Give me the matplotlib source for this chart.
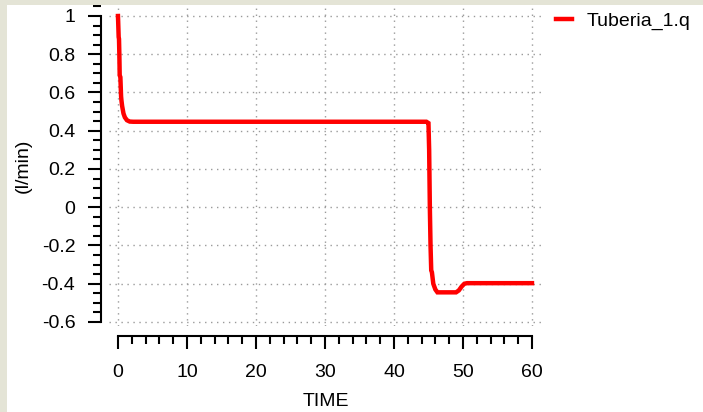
import matplotlib
matplotlib.use("Agg")
import matplotlib.pyplot as plt
from matplotlib.patches import Rectangle
from matplotlib.ticker import MultipleLocator

# Tuberia_1.q flow
time = [0.0, 0.03, 0.1, 0.15, 0.2, 0.25, 0.35, 0.45, 0.5, 0.6, 0.8, 1.0, 1.3, 1.7, 2.2,
        44.7, 45.0, 45.1, 45.2, 45.3, 45.4, 45.5, 45.7, 46.0, 46.3, 49.0, 49.4, 49.8, 50.2, 50.6, 60.0]
flow = [1.0, 0.97, 0.89, 0.88, 0.80, 0.69, 0.68, 0.58, 0.56, 0.53, 0.49, 0.47, 0.455, 0.448, 0.447,
        0.447, 0.44, 0.30, 0.0, -0.2, -0.33, -0.34, -0.40, -0.43, -0.445, -0.445, -0.435, -0.415, -0.40, -0.397, -0.397]
series_name = "Tuberia_1.q"

W, H = 703, 412
fig = plt.figure(figsize=(W / 100, H / 100), dpi=100)
fig.patch.set_facecolor("white")

# textured frame strips of the original screenshot
fig.patches.append(Rectangle((0, 1 - 5 / H), 1, 5 / H, transform=fig.transFigure,
                             facecolor="#e4e4d6", edgecolor="none", zorder=0))
fig.patches.append(Rectangle((0, 0), 7 / W, 1, transform=fig.transFigure,
                             facecolor="#e4e4d6", edgecolor="none", zorder=0))

# axes box in pixels
left, right, top, bottom = 109, 543, 5, 326
ax = fig.add_axes([left / W, 1 - bottom / H, (right - left) / W, (bottom - top) / H])
ax.set_facecolor("white")
ax.set_xlim(-1.3, 61.6)
ax.set_ylim(-0.621, 1.0575)

ax.plot(time, flow, color="#ff0000", lw=3.2, solid_joinstyle="miter", label=series_name)

fs = 14
font = "Liberation Sans"

ax.xaxis.set_major_locator(MultipleLocator(10))
ax.xaxis.set_minor_locator(MultipleLocator(2))
ax.yaxis.set_major_locator(MultipleLocator(0.2))
ax.yaxis.set_minor_locator(MultipleLocator(0.05))

ax.grid(True, which="major", color="#9a9a9a", lw=1.0, linestyle=(0, (1, 3.3)))

for s in ["top", "right"]:
    ax.spines[s].set_visible(False)
ax.spines["left"].set_position(("outward", 8 * 0.72))
ax.spines["bottom"].set_position(("outward", 10 * 0.72))
ax.spines["left"].set_bounds(-0.6, 1.0)
ax.spines["bottom"].set_bounds(0, 60)
ax.spines["left"].set_linewidth(1.5)
ax.spines["bottom"].set_linewidth(1.5)

ax.tick_params(which="major", length=9.5, width=1.5, color="black")
ax.tick_params(which="minor", length=5.5, width=1.5, color="black")
ax.tick_params(axis="y", which="major", pad=9)
ax.tick_params(axis="x", which="major", pad=11)

ax.set_xticks([0, 10, 20, 30, 40, 50, 60])
ax.set_xticklabels(["0", "10", "20", "30", "40", "50", "60"], fontsize=fs, family=font)
yt = [-0.6, -0.4, -0.2, 0, 0.2, 0.4, 0.6, 0.8, 1]
ax.set_yticks(yt)
ax.set_yticklabels([("%g" % v) for v in yt], fontsize=fs, family=font)

ax.set_xlabel("TIME", fontsize=fs, family=font, labelpad=8)
ax.set_ylabel("(l/min)", fontsize=fs, family=font, labelpad=7)

leg = ax.legend(loc="upper left", bbox_to_anchor=(556 / W, 1 - 12 / H),
                bbox_transform=fig.transFigure, frameon=False,
                prop={"family": font, "size": fs},
                handlelength=0.8, handletextpad=0.75, borderpad=0, borderaxespad=0)

fig.savefig("out.png", dpi=100)
